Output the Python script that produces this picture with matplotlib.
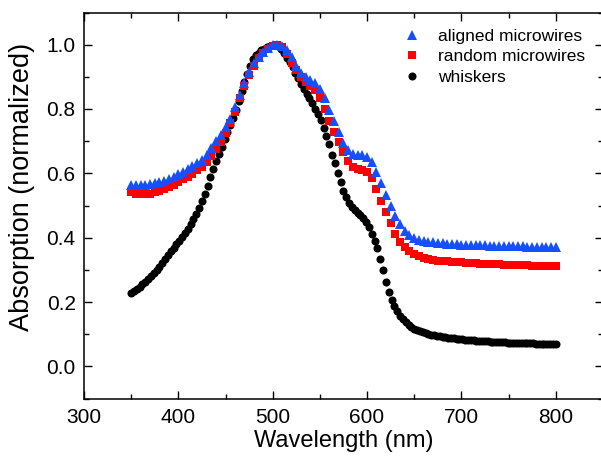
import numpy as np
import matplotlib
matplotlib.use("Agg")
import matplotlib.pyplot as plt
from matplotlib.ticker import MultipleLocator

plt.rcParams['font.family'] = ['Liberation Sans', 'DejaVu Sans']

# aligned / random microwires, sampled every 5 nm
wl_wires = np.arange(350, 801, 5)
aligned = [0.565, 0.563, 0.563, 0.565, 0.567, 0.570, 0.573, 0.577, 0.583, 0.590,
           0.597, 0.605, 0.613, 0.622, 0.632, 0.643, 0.658, 0.678, 0.700, 0.720,
           0.745, 0.770, 0.805, 0.845, 0.880, 0.915, 0.942, 0.962, 0.977, 0.990,
           0.998, 1.000, 0.997, 0.982, 0.962, 0.935, 0.913, 0.900, 0.890, 0.880,
           0.863, 0.835, 0.797, 0.762, 0.727, 0.694, 0.672, 0.660, 0.658, 0.657,
           0.652, 0.634, 0.603, 0.569, 0.533, 0.499, 0.467, 0.441, 0.422, 0.409,
           0.400, 0.394, 0.390, 0.387, 0.385, 0.383, 0.382, 0.381, 0.380, 0.379,
           0.378, 0.378, 0.377, 0.377, 0.376, 0.376, 0.375, 0.375, 0.374, 0.374,
           0.374, 0.373, 0.373, 0.373, 0.372, 0.372, 0.371, 0.371, 0.371, 0.370,
           0.370]
random_ = [0.543, 0.537, 0.535, 0.535, 0.537, 0.541, 0.546, 0.552, 0.558, 0.565,
           0.573, 0.581, 0.590, 0.599, 0.610, 0.621, 0.636, 0.655, 0.675, 0.698,
           0.725, 0.755, 0.792, 0.835, 0.870, 0.905, 0.935, 0.958, 0.975, 0.988,
           0.997, 1.000, 0.993, 0.970, 0.943, 0.920, 0.900, 0.885, 0.872, 0.860,
           0.835, 0.800, 0.763, 0.730, 0.698, 0.665, 0.637, 0.620, 0.613, 0.609,
           0.603, 0.585, 0.550, 0.515, 0.480, 0.445, 0.412, 0.388, 0.370, 0.357,
           0.348, 0.342, 0.337, 0.334, 0.331, 0.329, 0.327, 0.326, 0.325, 0.324,
           0.323, 0.322, 0.321, 0.320, 0.319, 0.319, 0.318, 0.317, 0.317, 0.316,
           0.316, 0.315, 0.315, 0.314, 0.314, 0.313, 0.313, 0.312, 0.312, 0.311,
           0.311]

# whiskers, sampled every 3 nm
wl_whiskers = np.arange(350, 801, 3)
whiskers = [0.228, 0.235, 0.241, 0.248, 0.255, 0.263, 0.272, 0.281, 0.290, 0.299,
            0.309, 0.320, 0.333, 0.346, 0.358, 0.369, 0.380, 0.391, 0.402, 0.414,
            0.427, 0.442, 0.458, 0.475, 0.493, 0.513, 0.535, 0.560, 0.588, 0.614,
            0.638, 0.660, 0.683, 0.706, 0.728, 0.750, 0.772, 0.797, 0.825, 0.855,
            0.883, 0.910, 0.935, 0.955, 0.967, 0.975, 0.982, 0.988, 0.993, 0.997,
            0.999, 1.000, 0.996, 0.988, 0.975, 0.960, 0.946, 0.930, 0.913, 0.895,
            0.878, 0.862, 0.848, 0.834, 0.818, 0.800, 0.785, 0.766, 0.741, 0.715,
            0.690, 0.658, 0.632, 0.602, 0.572, 0.546, 0.525, 0.509, 0.496, 0.485,
            0.477, 0.469, 0.460, 0.450, 0.433, 0.410, 0.390, 0.367, 0.335, 0.300,
            0.263, 0.232, 0.205, 0.187, 0.172, 0.158, 0.147, 0.138, 0.130, 0.123,
            0.117, 0.113, 0.109, 0.106, 0.103, 0.100, 0.098, 0.096, 0.094, 0.093,
            0.091, 0.090, 0.089, 0.088, 0.087, 0.086, 0.085, 0.084, 0.083, 0.083,
            0.082, 0.081, 0.080, 0.079, 0.079, 0.078, 0.078, 0.077, 0.077, 0.076,
            0.076, 0.075, 0.075, 0.074, 0.074, 0.073, 0.073, 0.073, 0.072, 0.072,
            0.071, 0.071, 0.071, 0.070, 0.070, 0.070, 0.069, 0.069, 0.069, 0.068,
            0.068]

fig = plt.figure(figsize=(6.01, 4.58), dpi=100)
ax = fig.add_axes([84 / 601, 59.5 / 458, 518.9 / 601, 386 / 458])

ax.plot(wl_whiskers, whiskers, 'o', color='black', ms=5.8, mew=0, label='whiskers', zorder=2)
ax.plot(wl_wires, random_, 's', color='#ff0000', ms=5.6, mew=0, label='random microwires', zorder=3)
ax.plot(wl_wires, aligned, '^', color='#1450ff', ms=7.2, mew=0, label='aligned microwires', zorder=4)

ax.set_xlim(300, 850)
ax.set_ylim(-0.1, 1.1)
ax.xaxis.set_major_locator(MultipleLocator(100))
ax.xaxis.set_minor_locator(MultipleLocator(50))
ax.yaxis.set_major_locator(MultipleLocator(0.2))
ax.yaxis.set_minor_locator(MultipleLocator(0.1))
ax.yaxis.set_major_formatter(matplotlib.ticker.FormatStrFormatter('%.1f'))
ax.tick_params(which='both', direction='in', top=True, right=True, width=1, labelsize=15)
ax.tick_params(which='major', length=6)
ax.tick_params(which='minor', length=3.5)
ax.tick_params(axis='x', pad=7)
ax.tick_params(axis='y', pad=6)
for s in ax.spines.values():
    s.set_linewidth(1.1)

ax.set_xlabel('Wavelength (nm)', fontsize=17, labelpad=2)
ax.set_ylabel('Absorption (normalized)', fontsize=19.5)
ax.yaxis.set_label_coords(-0.094, 0.548)

h, l = ax.get_legend_handles_labels()
ax.legend(h[::-1], l[::-1], loc='upper left', bbox_to_anchor=(0.612, 0.958), frameon=False,
          fontsize=12.5, handletextpad=0.9, labelspacing=0.3, handlelength=1.2,
          borderpad=0, borderaxespad=0)

fig.savefig('out.png', dpi=100)
